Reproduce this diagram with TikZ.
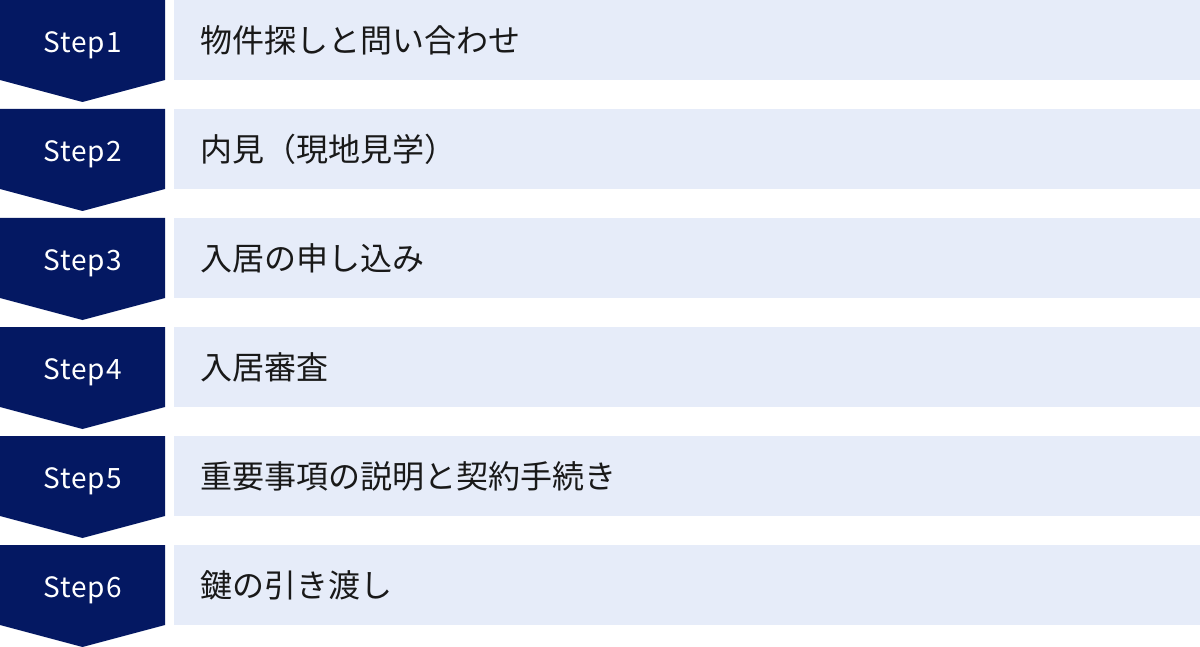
\documentclass[tikz,border=0pt]{standalone}
\usepackage{fontspec}
\setmainfont{Noto Sans CJK JP}
\newfontfamily\stepfont[LetterSpace=4]{Noto Sans CJK JP}
\definecolor{navy}{HTML}{041862}
\definecolor{pale}{HTML}{E6ECF9}
\tikzset{
  chev/.style={fill=navy},
  band/.style={fill=pale},
  steplabel/.style={text=white,font=\stepfont\fontsize{28}{30}\selectfont,anchor=base,inner sep=0},
  desc/.style={text=black!90,font=\fontsize{32}{34}\selectfont,anchor=base west,inner sep=0}
}
\begin{document}
\begin{tikzpicture}[x=1pt,y=-1pt]
\useasboundingbox (0,0) rectangle (1200,647);
\foreach \i/\t in {1/物件探しと問い合わせ,2/内見（現地見学）,3/入居の申し込み,4/入居審査,5/重要事項の説明と契約手続き,6/鍵の引き渡し}{
  \pgfmathsetmacro{\y}{(\i-1)*109}
  \path[chev] (0,\y) -- (165,\y) -- (165,\y+80) -- (82.5,\y+102) -- (0,\y+80) -- cycle;
  \path[band] (174,\y) rectangle (1200,\y+80);
  \node[steplabel] (s\i) at (82.5,\y+52.3) {Step\i};
  \node[desc] (t\i) at (200,\y+52.5) {\t};
}
\end{tikzpicture}
\end{document}
